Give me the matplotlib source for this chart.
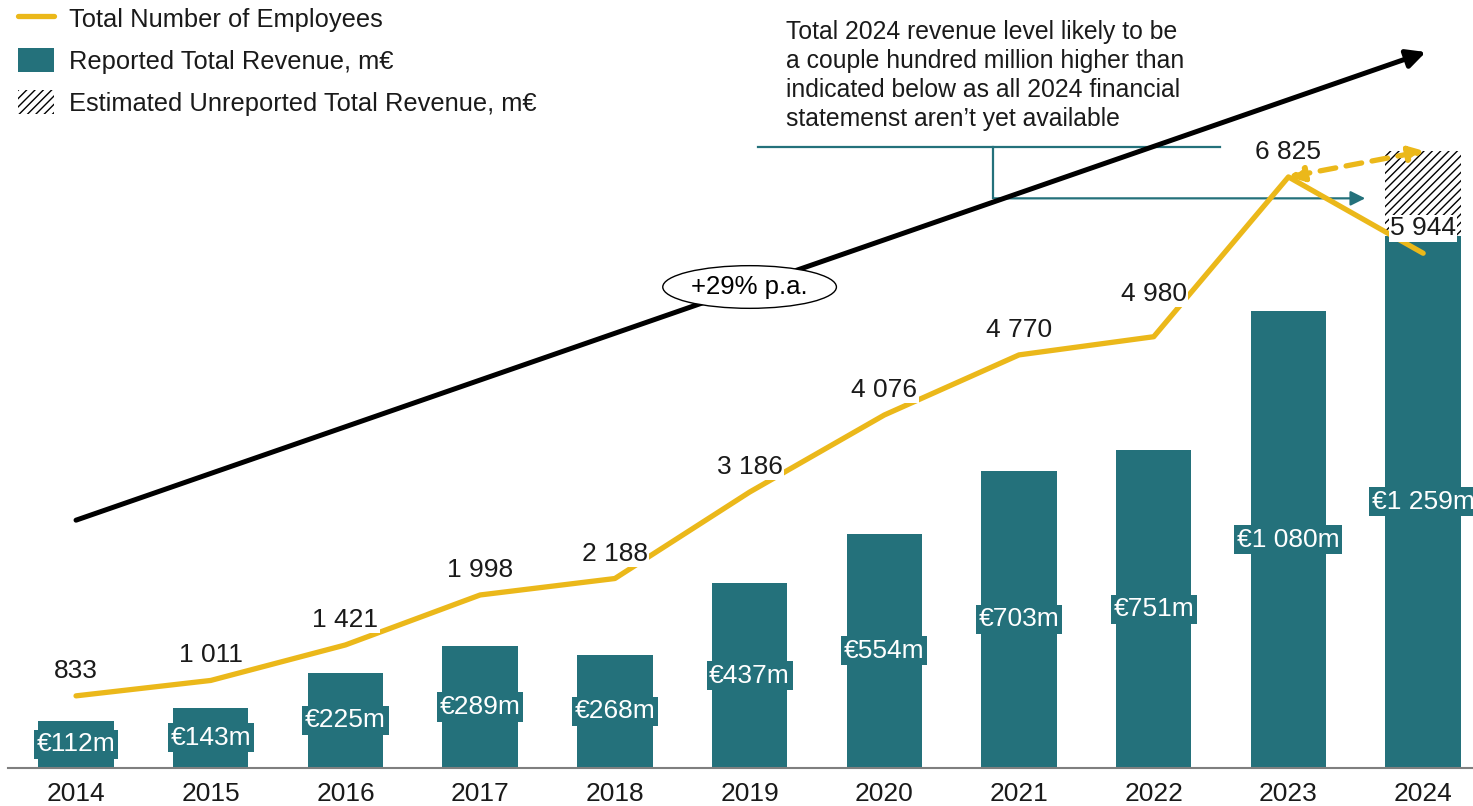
import matplotlib.pyplot as plt
from matplotlib.lines import Line2D
from matplotlib.patches import Patch

plt.rcParams['font.family'] = ['Liberation Sans', 'DejaVu Sans']
plt.rcParams['hatch.linewidth'] = 1.0

# data
years = [2014, 2015, 2016, 2017, 2018, 2019, 2020, 2021, 2022, 2023, 2024]
revenue = [112, 143, 225, 289, 268, 437, 554, 703, 751, 1080, 1259]   # m EUR reported
unreported_2024 = 200                                                   # m EUR, estimated
employees = [833, 1011, 1421, 1998, 2188, 3186, 4076, 4770, 4980, 6825, 5944]

teal = '#24717B'
yellow = '#EBB81A'
txt = '#1a1a1a'

def fmt(v):
    return f"{v:,}".replace(',', ' ')

fig = plt.figure(figsize=(14.73, 8.06), dpi=100)
ax = fig.add_axes([8/1473, 38/806, 1465/1473, 768/806])
ax2 = ax.twinx()

x = list(range(len(years)))
ax.bar(x, revenue, width=0.56, color=teal, zorder=2)
ax.bar(x[-1], unreported_2024, bottom=revenue[-1], width=0.56, color='white',
       edgecolor='black', hatch='////', linewidth=0, zorder=2)

for i, v in enumerate(revenue):
    ax.text(i, v / 2, '€' + fmt(v) + 'm', ha='center', va='center', color='white',
            fontsize=19, zorder=3,
            bbox=dict(boxstyle='square,pad=0.1', fc=teal, ec='none'))

ax.set_xlim(-0.505, 10.37)
ax.set_ylim(0, 1816)
ax2.set_ylim(0, 8868)

# employees line
ax2.plot(x, employees, color=yellow, lw=3.8, solid_capstyle='round',
         solid_joinstyle='round', zorder=3)
for i, e in enumerate(employees):
    off = 31 if years[i] == 2022 else 18
    ax2.annotate(fmt(e), (i, e), xytext=(0, off), textcoords='offset points',
                 ha='center', va='center', fontsize=19, color=txt, zorder=5,
                 bbox=dict(boxstyle='square,pad=0.05', fc='white', ec='none'))

# dashed arrow from 2023 headcount to estimated 2024 revenue top
ax2.annotate('', xy=(10.01, revenue[-1] + unreported_2024), xycoords=ax.transData,
             xytext=(9, employees[-2]), textcoords=ax2.transData,
             arrowprops=dict(arrowstyle='<|-|>', color=yellow, lw=3.8, ls=(0, (3, 2)),
                             mutation_scale=22, shrinkA=0, shrinkB=0), zorder=4)

# CAGR arrow
ax2.annotate('', xy=(10.02, 1693), xycoords=ax.transData,
             xytext=(0, 586), textcoords=ax.transData,
             arrowprops=dict(arrowstyle='-|>', color='black', lw=3.6,
                             mutation_scale=28, shrinkA=0, shrinkB=0), zorder=2)
ax2.text(5.0, 481 / 768 * 8868, '+29% p.a.', ha='center', va='center', fontsize=18.5,
         color='black', zorder=6,
         bbox=dict(boxstyle='ellipse,pad=0.12', fc='white', ec='black', lw=1))

# note bracket
ax2.plot([5.06, 8.49], [1468, 1468], color=teal, lw=1.6, transform=ax.transData, zorder=1)
ax2.plot([6.81, 6.81], [1468, 1347], color=teal, lw=1.6, transform=ax.transData, zorder=1)
ax2.annotate('', xy=(9.57, 1347), xycoords=ax.transData,
             xytext=(6.81, 1347), textcoords=ax.transData,
             arrowprops=dict(arrowstyle='-|>', color=teal, lw=1.6,
                             mutation_scale=22, shrinkA=0, shrinkB=0), zorder=1)
ax2.text(5.27, 1768, 'Total 2024 revenue level likely to be\n'
         'a couple hundred million higher than\n'
         'indicated below as all 2024 financial\n'
         'statemenst aren\u2019t yet available',
         transform=ax.transData, ha='left', va='top', fontsize=17.8, color=txt,
         linespacing=1.25)

# axes styling
for a in (ax, ax2):
    for s in a.spines.values():
        s.set_visible(False)
    a.set_yticks([])
ax.spines['bottom'].set_visible(True)
ax.spines['bottom'].set_color('#7f7f7f')
ax.spines['bottom'].set_linewidth(1.5)
ax.set_xticks(x)
ax.set_xticklabels([str(y) for y in years], fontsize=19, color=txt)
ax.tick_params(axis='x', length=0, pad=10)

handles = [Line2D([0], [0], color=yellow, lw=3.8, solid_capstyle='round'),
           Patch(fc=teal, ec='none'),
           Patch(fc='white', ec='black', hatch='////', lw=0)]
labels = ['Total Number of Employees', 'Reported Total Revenue, m€',
          'Estimated Unreported Total Revenue, m€']
ax2.legend(handles, labels, loc='upper left', bbox_to_anchor=(18/1473, 1 - 6/806),
           bbox_transform=fig.transFigure, frameon=False, fontsize=18.4,
           handlelength=1.4, handleheight=1.1, handletextpad=0.6,
           labelspacing=0.62, borderpad=0, borderaxespad=0, labelcolor=txt)

fig.savefig('out.png', dpi=100)
